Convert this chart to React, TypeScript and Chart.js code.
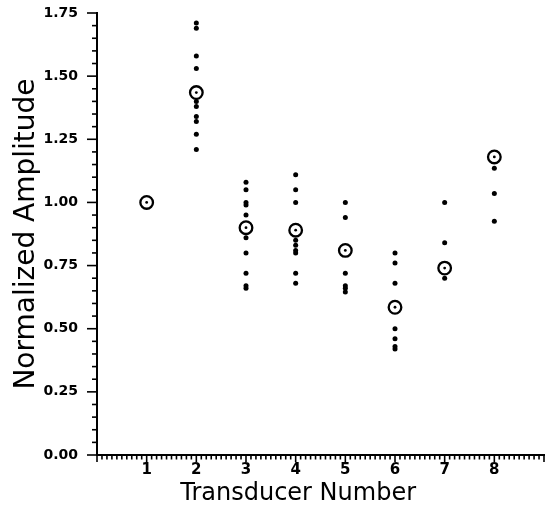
import React, { useEffect, useRef } from 'react';
import { Chart, registerables } from 'chart.js';

Chart.register(...registerables);

// Transducer numbers and mean (normalized) amplitude per transducer
const transducers = [1, 2, 3, 4, 5, 6, 7, 8];
const meanAmplitude = [1.0, 1.435, 0.9, 0.89, 0.81, 0.585, 0.74, 1.18];

// Individual measurements per transducer
const samplesT1: number[] = [];
const samplesT2 = [1.71, 1.69, 1.58, 1.53, 1.4, 1.38, 1.34, 1.32, 1.27, 1.21];
const samplesT3 = [1.08, 1.05, 1.0, 0.99, 0.95, 0.86, 0.8, 0.72, 0.67, 0.66];
const samplesT4 = [1.11, 1.05, 1.0, 0.85, 0.83, 0.81, 0.8, 0.72, 0.68];
const samplesT5 = [1.0, 0.94, 0.72, 0.67, 0.66, 0.645];
const samplesT6 = [0.8, 0.76, 0.68, 0.5, 0.46, 0.43, 0.42];
const samplesT7 = [1.0, 0.84, 0.7];
const samplesT8 = [1.135, 1.035, 0.925];

const xTickLabels = ['1', '2', '3', '4', '5', '6', '7', '8'];
const yTickLabels = ['0.00', '0.25', '0.50', '0.75', '1.00', '1.25', '1.50', '1.75'];
const xTitle = 'Transducer Number';
const yTitle = 'Normalized Amplitude';

const FONT = "'DejaVu Sans', 'Liberation Sans', sans-serif";

const axisTicksPlugin = {
  id: 'axisTicks',
  afterDraw(chart: any) {
    const { ctx, scales } = chart;
    const x = scales.x;
    const y = scales.y;
    ctx.save();
    ctx.strokeStyle = '#000';
    ctx.lineWidth = 1.6;
    // y-axis: minor ticks every 0.05, major every 0.25 (pointing left)
    for (let i = 0; i <= 35; i++) {
      const py = y.getPixelForValue(i * 0.05);
      const major = i % 5 === 0;
      ctx.beginPath();
      ctx.moveTo(x.left, py);
      ctx.lineTo(x.left - (major ? 10 : 5), py);
      ctx.stroke();
    }
    // x-axis: minor ticks every 0.1, major every 1 (pointing down)
    for (let i = 0; i <= 90; i++) {
      const px = x.getPixelForValue(i * 0.1);
      const major = i % 10 === 0;
      ctx.beginPath();
      ctx.moveTo(px, y.bottom);
      ctx.lineTo(px, y.bottom + (major ? 7 : 4.5));
      ctx.stroke();
    }
    // x-axis title, centred a little left of the axis middle as in the original
    ctx.fillStyle = '#000';
    ctx.font = `24px ${FONT}`;
    ctx.textAlign = 'center';
    ctx.textBaseline = 'middle';
    ctx.fillText(xTitle, x.getPixelForValue(4.05), x.bottom - 16);
    ctx.restore();
  },
};

export default function App() {
  const canvasRef = useRef<HTMLCanvasElement | null>(null);

  useEffect(() => {
    if (!canvasRef.current) return;
    const allSamples = [samplesT1, samplesT2, samplesT3, samplesT4, samplesT5, samplesT6, samplesT7, samplesT8];
    const samplePoints: { x: number; y: number }[] = [];
    allSamples.forEach((arr, i) => {
      arr.forEach((v) => samplePoints.push({ x: transducers[i], y: v }));
    });
    const meanPoints = transducers.map((t, i) => ({ x: t, y: meanAmplitude[i] }));

    const chart = new Chart(canvasRef.current, {
      type: 'scatter',
      data: {
        datasets: [
          {
            label: 'mean centre',
            data: meanPoints,
            pointRadius: 1.4,
            pointBackgroundColor: '#000',
            pointBorderWidth: 0,
          },
          {
            label: 'mean',
            data: meanPoints,
            pointRadius: 6.3,
            pointBackgroundColor: '#fff',
            pointBorderColor: '#000',
            pointBorderWidth: 2.3,
          },
          {
            label: 'samples',
            data: samplePoints,
            pointRadius: 2.5,
            pointBackgroundColor: '#000',
            pointBorderWidth: 0,
          },
        ],
      },
      options: {
        responsive: false,
        animation: false,
        layout: { padding: { top: 13, right: 15, left: 0, bottom: 0 } },
        plugins: {
          legend: { display: false },
          tooltip: { enabled: false },
        },
        scales: {
          x: {
            type: 'linear',
            min: 0,
            max: 9,
            grid: { display: false },
            border: { display: true, color: '#000', width: 2 },
            afterFit: (scale: any) => {
              scale.height = 55;
            },
            ticks: {
              stepSize: 1,
              autoSkip: false,
              maxRotation: 0,
              padding: -2,
              color: '#000',
              font: { family: FONT, size: 15, weight: 'bold' },
              callback: (v: any) => {
                const idx = transducers.indexOf(Number(v));
                return idx >= 0 ? xTickLabels[idx] : '';
              },
            },
            title: { display: false },
          },
          y: {
            type: 'linear',
            min: 0,
            max: 1.75,
            grid: { display: false },
            border: { display: true, color: '#000', width: 2 },
            afterFit: (scale: any) => {
              scale.width = 97;
              scale.paddingTop = 0;
              scale.paddingBottom = 0;
            },
            ticks: {
              stepSize: 0.25,
              autoSkip: false,
              padding: 11,
              color: '#000',
              font: { family: FONT, size: 14, weight: 'bold' },
              callback: (v: any) => {
                const idx = Math.round(Number(v) / 0.25);
                return yTickLabels[idx] ?? '';
              },
            },
            title: {
              display: true,
              text: yTitle,
              color: '#000',
              font: { family: FONT, size: 28, lineHeight: 1.2 },
              padding: { top: 10, bottom: 0 },
            },
          },
        },
      },
      plugins: [axisTicksPlugin],
    });

    return () => chart.destroy();
  }, []);

  return (
    <div style={{ position: 'fixed', left: 0, top: 0, width: 559, height: 510, background: '#fff' }}>
      <canvas ref={canvasRef} width={559} height={510} />
    </div>
  );
}
